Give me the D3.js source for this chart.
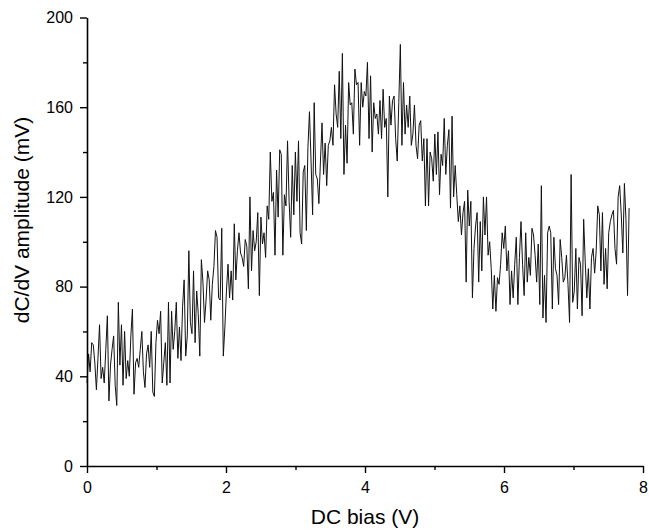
<!DOCTYPE html>
<html>
<head>
<meta charset="utf-8">
<script src="https://cdn.jsdelivr.net/npm/d3@7"></script>
<style>
  html, body { margin: 0; padding: 0; background: #fff; }
  svg { display: block; }
  text { font-family: Arial, "Liberation Sans", sans-serif; fill: #000; }
</style>
</head>
<body>
<svg id="chart" width="649" height="531"></svg>
<script>
// ---- data ----
const biasStart = 0;       // V, first sample
const biasEnd = 7.8;       // V, last sample
const amplitude = [
  // 0 – 1.34 V
  37, 50, 42, 55, 54, 46, 34, 48, 63, 39, 44, 37, 52, 67, 29, 45, 52, 58, 36, 27,
  73, 45, 63, 36, 60, 39, 47, 40, 58, 70, 32, 46, 48, 44, 52, 60, 42, 35, 50, 54,
  44, 60, 33, 31, 55, 65, 59, 69, 37, 46, 55, 36, 73, 37, 69, 52, 60, 73, 48, 62,
  // 1.34 – 2.63 V
  47, 71, 83, 49, 58, 96, 64, 59, 87, 55, 78, 68, 49, 92, 82, 64, 74, 87, 83, 65,
  81, 89, 105, 102, 75, 74, 106, 49, 62, 78, 90, 75, 87, 74, 108, 83, 96, 104, 95, 93,
  89, 101, 98, 79, 120, 87, 105, 96, 100, 113, 76, 111, 99, 104, 93, 116, 110,
  // 2.63 – 3.93 V
  140, 118, 122, 94, 132, 111, 141, 139, 94, 121, 116, 145, 118, 102, 134, 112, 140, 118, 145, 104,
  99, 131, 134, 105, 142, 158, 136, 112, 162, 130, 128, 117, 136, 153, 130, 144, 125, 143, 145, 151,
  143, 170, 157, 151, 176, 146, 184, 130, 152, 135, 171, 161, 162, 148, 177, 170, 171, 143,
  // 3.93 – 5.22 V
  171, 160, 167, 165, 180, 146, 174, 140, 162, 155, 157, 148, 163, 146, 168, 151, 155, 120, 165, 152,
  163, 165, 146, 136, 162, 188, 143, 171, 148, 161, 151, 165, 143, 148, 161, 143, 137, 152, 154, 136,
  146, 116, 146, 116, 140, 137, 127, 148, 130, 149, 121, 139, 134, 155, 130, 143, 150,
  // 5.22 – 6.52 V
  115, 156, 120, 134, 121, 109, 116, 103, 113, 118, 82, 123, 107, 118, 75, 97, 107, 113, 82, 109,
  87, 120, 103, 120, 94, 100, 88, 70, 85, 69, 84, 81, 90, 104, 97, 107, 87, 96, 72, 87,
  75, 90, 102, 72, 93, 109, 90, 76, 104, 82, 93, 85, 106, 103, 94, 82, 99,
  // 6.52 – 7.80 V
  72, 125, 66, 85, 64, 104, 107, 104, 70, 102, 88, 85, 72, 101, 93, 82, 84, 94, 81, 64,
  130, 73, 78, 97, 70, 93, 90, 67, 110, 91, 75, 88, 70, 93, 97, 86, 96, 116, 112, 87,
  113, 81, 97, 79, 104, 109, 112, 114, 97, 90, 120, 125, 112, 95, 126, 110, 76, 115
];
const xMajorTicks = [0, 2, 4, 6, 8];
const xMinorTicks = [1, 3, 5, 7];
const yMajorTicks = [0, 40, 80, 120, 160, 200];
const yMinorTicks = [20, 60, 100, 140, 180];
const xTitle = "DC bias (V)";
const yTitle = "dC/dV amplitude (mV)";

// ---- layout ----
const svg = d3.select("#chart");
const plotLeft = 87, plotRight = 643, plotTop = 17.5, plotBottom = 466;

const n = amplitude.length;
const step = (biasEnd - biasStart) / (n - 1);
const data = amplitude.map((v, i) => ({ x: biasStart + i * step, y: v }));

const x = d3.scaleLinear().domain([0, 8]).range([plotLeft, plotRight]);
const y = d3.scaleLinear().domain([0, 200]).range([plotBottom, plotTop]);

// line
svg.append("path")
  .datum(data)
  .attr("fill", "none")
  .attr("stroke", "#111")
  .attr("stroke-width", 1)
  .attr("stroke-linejoin", "miter")
  .attr("d", d3.line().x(d => x(d.x)).y(d => y(d.y)));

// axes
function styleAxis(g) {
  g.selectAll(".domain").attr("stroke", "#000").attr("stroke-width", 1.6);
  g.selectAll(".tick line").attr("stroke", "#000").attr("stroke-width", 1.4);
  g.selectAll("text").style("font-size", "16px").attr("fill", "#000")
    .style("font-family", "Arial, 'Liberation Sans', sans-serif");
}

const xAxisMinor = svg.append("g").attr("transform", `translate(0,${plotBottom})`)
  .call(d3.axisBottom(x).tickValues(xMinorTicks).tickSize(4).tickFormat(""));
xAxisMinor.select(".domain").remove();
styleAxis(xAxisMinor);

const yAxisMinor = svg.append("g").attr("transform", `translate(${plotLeft},0)`)
  .call(d3.axisLeft(y).tickValues(yMinorTicks).tickSize(4).tickFormat(""));
yAxisMinor.select(".domain").remove();
styleAxis(yAxisMinor);

const xAxis = svg.append("g").attr("transform", `translate(0,${plotBottom})`)
  .call(d3.axisBottom(x).tickValues(xMajorTicks).tickSizeInner(7).tickSizeOuter(0).tickPadding(9).tickFormat(d3.format("d")));
styleAxis(xAxis);

const yAxis = svg.append("g").attr("transform", `translate(${plotLeft},0)`)
  .call(d3.axisLeft(y).tickValues(yMajorTicks).tickSizeInner(7).tickSizeOuter(0).tickPadding(7).tickFormat(d3.format("d")));
styleAxis(yAxis);

// titles
svg.append("text")
  .attr("x", (plotLeft + plotRight) / 2)
  .attr("y", 524)
  .attr("text-anchor", "middle")
  .style("font-size", "21px")
  .text(xTitle);

svg.append("text")
  .attr("transform", `translate(29,220) rotate(-90)`)
  .attr("text-anchor", "middle")
  .style("font-size", "21px")
  .text(yTitle);
</script>
</body>
</html>
